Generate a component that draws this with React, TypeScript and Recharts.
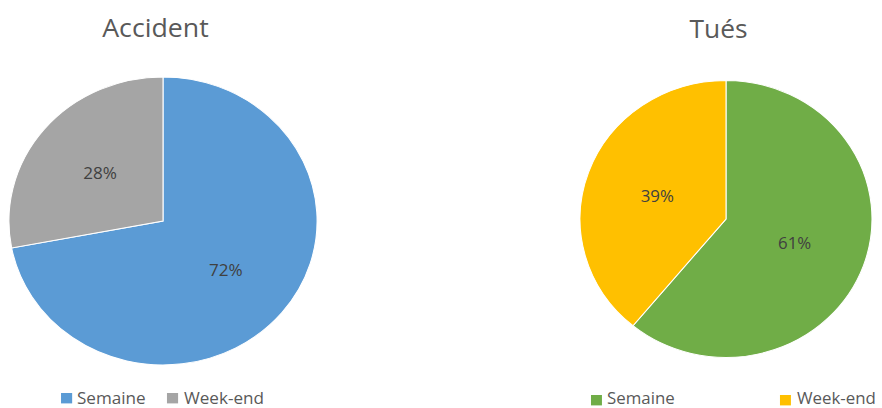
import React from "react";
import { PieChart, Pie, Cell, Legend } from "recharts";

const categories = ["Semaine", "Week-end"];
const accidentValues = [72, 28];
const tuesValues = [61, 39];
const accidentColors = ["#5B9BD5", "#A5A5A5"];
const tuesColors = ["#70AD47", "#FFC000"];
const titles = ["Accident", "Tués"];

const FONT = "'Open Sans', sans-serif";

const accidentData = categories.map((name, i) => ({ name, value: accidentValues[i] }));
const tuesData = categories.map((name, i) => ({ name, value: tuesValues[i] }));

const RAD = Math.PI / 180;

function makeLabel(factor: number) {
  return (props: any) => {
    const { cx, cy, midAngle, outerRadius, percent } = props;
    const r = outerRadius * factor;
    const x = cx + r * Math.cos(-midAngle * RAD);
    const y = cy + r * Math.sin(-midAngle * RAD);
    return (
      <text
        x={x}
        y={y}
        fill="#404040"
        fontFamily={FONT}
        fontSize={16}
        textAnchor="middle"
        dominantBaseline="central"
      >
        {`${Math.round(percent * 100)}%`}
      </text>
    );
  };
}

function makeLegend(items: { sq: number; tx: number }[], sqTop: number, baseline: number, colors: string[], w: number) {
  return (props: any) => {
    const payload = props.payload || [];
    return (
      <svg width={w} height={408} style={{ position: "absolute", left: 0, top: 0, overflow: "visible" }}>
        {payload.map((p: any, i: number) => (
          <g key={i}>
            <rect x={items[i].sq} y={sqTop} width={10.4} height={10.4} fill={colors[i]} />
            <text x={items[i].tx} y={baseline} fill="#595959" fontFamily={FONT} fontSize={16}>
              {p.value}
            </text>
          </g>
        ))}
      </svg>
    );
  };
}

function OnePie(props: {
  left: number; width: number; cx: number; cy: number; r: number; k: number;
  data: any[]; colors: string[]; title: string; titleBase: number;
  legendItems: { sq: number; tx: number }[]; sqTop: number; legendBase: number; labelFactor: number;
}) {
  const { left, width, cx, cy, r, k, data, colors, title, titleBase, legendItems, sqTop, legendBase, labelFactor } = props;
  return (
    <div
      style={{
        position: "absolute",
        left,
        top: 0,
        width,
        height: 408,
        transform: `scaleX(${k})`,
        transformOrigin: `${cx}px 0px`,
      }}
    >
      <svg width={width} height={60} style={{ position: "absolute", left: 0, top: 0, overflow: "visible" }}>
        <text x={cx - 7} y={titleBase} textAnchor="middle" fill="#595959" fontFamily={FONT} fontSize={25}>
          {title}
        </text>
      </svg>
      <PieChart width={width} height={408} margin={{ top: 0, right: 0, bottom: 0, left: 0 }}>
        <Pie
          data={data}
          dataKey="value"
          nameKey="name"
          cx={cx}
          cy={cy}
          outerRadius={r}
          startAngle={90}
          endAngle={-270}
          stroke="#ffffff"
          strokeWidth={1}
          label={makeLabel(labelFactor)}
          labelLine={false}
          isAnimationActive={false}
        >
          {data.map((d, i) => (
            <Cell key={d.name} fill={colors[i]} />
          ))}
        </Pie>
        <Legend
          wrapperStyle={{ position: "absolute", left: 0, top: 0, width: 0, height: 0 }}
          content={makeLegend(legendItems, sqTop, legendBase, colors, width)}
        />
      </PieChart>
    </div>
  );
}

export default function App() {
  return (
    <div
      style={{
        position: "absolute",
        left: 0,
        top: 0,
        width: 882,
        height: 408,
        overflow: "hidden",
        background: "#ffffff",
      }}
    >
      <OnePie
        left={0}
        width={330}
        cx={163}
        cy={221}
        r={144}
        k={1.07}
        data={accidentData}
        colors={accidentColors}
        title={titles[0]}
        titleBase={37}
        legendItems={[
          { sq: 67.7, tx: 82.6 },
          { sq: 166.7, tx: 182.6 },
        ]}
        sqTop={393}
        legendBase={404}
        labelFactor={0.53}
      />
      <OnePie
        left={560}
        width={322}
        cx={166}
        cy={219}
        r={138.5}
        k={1.054}
        data={tuesData}
        colors={tuesColors}
        title={titles[1]}
        titleBase={38}
        legendItems={[
          { sq: 37.9, tx: 53.1 },
          { sq: 217.2, tx: 233.4 },
        ]}
        sqTop={395}
        legendBase={404}
        labelFactor={0.5}
      />
    </div>
  );
}
